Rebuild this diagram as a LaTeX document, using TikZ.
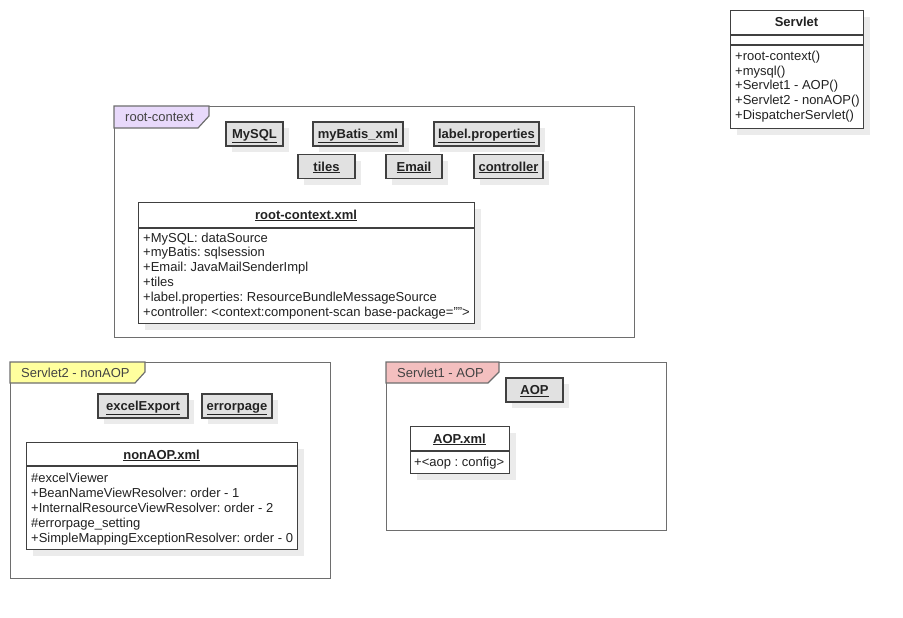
\documentclass[tikz,border=0pt]{standalone}
\usepackage{fontspec}
\setmainfont{Liberation Sans}
\usetikzlibrary{shadows}
\definecolor{edge}{HTML}{404040}
\definecolor{framecol}{HTML}{6E6E6E}
\definecolor{objgray}{HTML}{E1E1E1}
\definecolor{shadowgray}{HTML}{EBEBEB}
\definecolor{tabpurple}{HTML}{E8D9FB}
\definecolor{tabyellow}{HTML}{FFFF9E}
\definecolor{tabpink}{HTML}{F3BFBF}
\definecolor{txt}{HTML}{222222}
\frenchspacing
\begin{document}
\begin{tikzpicture}[x=1pt,y=-1pt,
  font=\fontsize{13}{15}\selectfont, text=txt,
  shadowed/.style={drop shadow={shadow xshift=6pt, shadow yshift=-6pt, fill=shadowgray, opacity=1}},
  obj/.style={draw=edge, fill=objgray, line width=1.2pt, shadowed, inner sep=0pt,
    minimum height=24pt, text height=11pt, text depth=2pt, font=\fontsize{13}{15}\selectfont\bfseries},
  cls/.style={draw=edge, fill=white, line width=1.1pt, shadowed, inner sep=0pt, anchor=north west},
  sep/.style={draw=edge, line width=1.1pt},
  frame/.style={draw=framecol, line width=1.2pt, inner sep=0pt, anchor=north west},
  tab/.style={draw=framecol, line width=1.2pt},
  ttl/.style={inner sep=0pt, text height=11pt, text depth=2pt, font=\fontsize{13}{15}\selectfont\bfseries},
  attr/.style={inner sep=0pt, anchor=base west},
  tabtxt/.style={inner sep=0pt, anchor=west, text=txt!85}]
\useasboundingbox (0,0) rectangle (903,618);

% ---------- frames ----------
\node[frame, minimum width=520pt, minimum height=231pt] (rc) at (114,106) {};
\draw[tab, fill=tabpurple] (114,106) -- (209,106) -- (209,116) -- (198,128) -- (114,128) -- cycle;
\node[tabtxt] (rctab) at (125,117) {root-context};

\node[frame, minimum width=320pt, minimum height=216pt] (s2) at (10,362) {};
\draw[tab, fill=tabyellow] (10,362) -- (145,362) -- (145,372) -- (135,383) -- (10,383) -- cycle;
\node[tabtxt] (s2tab) at (21,373) {Servlet2 - nonAOP};

\node[frame, minimum width=280pt, minimum height=168pt] (s1) at (386,362) {};
\draw[tab, fill=tabpink] (386,362) -- (499,362) -- (499,372) -- (488,383) -- (386,383) -- cycle;
\node[tabtxt] (s1tab) at (397,373) {Servlet1 - AOP};

% ---------- objects ----------
\node[obj, minimum width=57pt] (mysql) at (254.5,134) {\underline{MySQL}};
\node[obj, minimum width=90pt] (mybatis) at (358,134) {\underline{myBatis\_xml}};
\node[obj, minimum width=105pt] (label) at (486.5,134) {\underline{label.properties}};
\node[obj, minimum width=57pt] (tiles) at (326.5,166.5) {\underline{tiles}};
\node[obj, minimum width=56pt] (email) at (414,166.5) {\underline{Email}};
\node[obj, minimum width=69pt] (controller) at (508.5,166.5) {\underline{controller}};
\node[obj, minimum width=90pt] (excel) at (143,406) {\underline{excelExport}};
\node[obj, minimum width=70pt] (errorpage) at (237,406) {\underline{errorpage}};
\node[obj, minimum width=57pt] (aop) at (534.5,390) {\underline{AOP}};

% ---------- Servlet class ----------
\node[cls, minimum width=133pt, minimum height=118pt] (servlet) at (730,10) {};
\draw[sep] (730,35) -- (863,35);
\draw[sep] (730,45) -- (863,45);
\node[ttl] (servlett) at (796.5,22.5) {Servlet};
\foreach \t [count=\i] in {+root-context(), +mysql(), +Servlet1 - AOP(), +Servlet2 - nonAOP(), +DispatcherServlet()}
  \node[attr] (servleta\i) at (735,{60.5+14.7*(\i-1)}) {\t};

% ---------- root-context.xml ----------
\node[cls, minimum width=336pt, minimum height=121pt] (rcx) at (138,202) {};
\draw[sep] (138,228) -- (474,228);
\node[ttl] (rcxt) at (306,214.5) {\underline{root-context.xml}};
\node[attr] (rcx1) at (143,242) {+MySQL: dataSource};
\node[attr] (rcx2) at (143,256.8) {+myBatis: sqlsession};
\node[attr] (rcx3) at (143,271.6) {+Email: JavaMailSenderImpl};
\node[attr] (rcx4) at (143,286.4) {+tiles};
\node[attr] (rcx5) at (143,301.2) {+label.properties: ResourceBundleMessageSource};
\node[attr] (rcx6) at (143,316) {+controller: <context:component-scan base-package="">};

% ---------- nonAOP.xml ----------
\node[cls, minimum width=271pt, minimum height=107pt] (nax) at (26,442) {};
\draw[sep] (26,466) -- (297,466);
\node[ttl] (naxt) at (161.5,454.5) {\underline{nonAOP.xml}};
\node[attr] (nax1) at (31,482.5) {\#excelViewer};
\node[attr] (nax2) at (31,497.5) {+BeanNameViewResolver: order - 1};
\node[attr] (nax3) at (31,512.5) {+InternalResourceViewResolver: order - 2};
\node[attr] (nax4) at (31,527.5) {\#errorpage\_setting};
\node[attr] (nax5) at (31,542.5) {+SimpleMappingExceptionResolver: order - 0};

% ---------- AOP.xml ----------
\node[cls, minimum width=99pt, minimum height=47pt] (aopx) at (410,426) {};
\draw[sep] (410,451) -- (509,451);
\node[ttl] (aopxt) at (459.5,438.5) {\underline{AOP.xml}};
\node[attr] (aopx1) at (414,466.5) {+<aop : config>};
\end{tikzpicture}
\end{document}
